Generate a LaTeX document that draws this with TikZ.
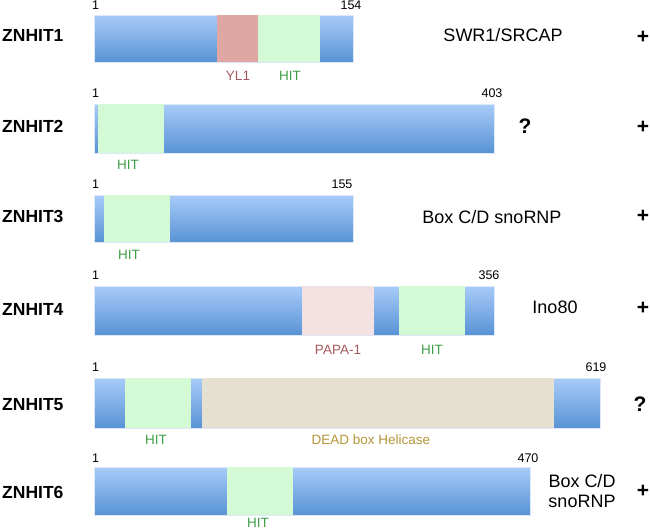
\documentclass[tikz,border=0pt]{standalone}
\usepackage{fontspec}
\setmainfont{Liberation Sans}
\definecolor{bartop}{HTML}{A8CBF8}
\definecolor{barbot}{HTML}{5893D5}
\definecolor{barline}{HTML}{DCE8F8}
\definecolor{hitfill}{HTML}{D3F9D5}
\definecolor{ylfill}{HTML}{DFA7A3}
\definecolor{papafill}{HTML}{F3E2E1}
\definecolor{deadfill}{HTML}{E5E0D0}
\definecolor{hittext}{HTML}{3D9E45}
\definecolor{redtext}{HTML}{A45A5E}
\definecolor{deadtext}{HTML}{B39538}
\tikzset{
  barshade/.style={top color=bartop,bottom color=barbot,draw=barline,line width=0.6pt},
  hitbox/.style={fill=hitfill},
  ylbox/.style={fill=ylfill},
  papabox/.style={fill=papafill},
  deadbox/.style={fill=deadfill},
  protname/.style={anchor=west,inner sep=0pt,font=\bfseries\fontsize{17.5}{19}\selectfont},
  numlab/.style={inner sep=0pt,font=\fontsize{12.5}{14}\selectfont},
  domlab/.style={inner sep=0pt,font=\fontsize{13.5}{15}\selectfont},
  sidetext/.style={inner sep=0pt,font=\fontsize{18}{20}\selectfont,align=left},
  signmark/.style={inner sep=0pt,font=\bfseries\fontsize{21}{23}\selectfont}
}
\begin{document}
\begin{tikzpicture}[x=1pt,y=-1pt]
\useasboundingbox (0,0) rectangle (650,531);
% ---- ZNHIT1
\shade[barshade] (94,15) rectangle (353,62);
\fill[ylbox] (217,15) rectangle (258,62);
\fill[hitbox] (258,15) rectangle (320,62);
\node[protname] (p1) at (2,35) {ZNHIT1};
\node[numlab] (p1s) at (95.5,5) {1};
\node[numlab] (p1e) at (351,5) {154};
\node[domlab,text=redtext] (p1a) at (238,76) {YL1};
\node[domlab,text=hittext] (p1b) at (290,76) {HIT};
\node[sidetext] (p1c) at (503,35) {SWR1/SRCAP};
\node[signmark] (p1m) at (643,37) {+};
% ---- ZNHIT2
\shade[barshade] (94,104) rectangle (494,153);
\fill[hitbox] (97.5,104) rectangle (164,153);
\node[protname] (p2) at (2,126) {ZNHIT2};
\node[numlab] (p2s) at (95.5,93) {1};
\node[numlab] (p2e) at (492,93) {403};
\node[domlab,text=hittext] (p2b) at (128,165) {HIT};
\node[signmark] (p2q) at (525,126) {?};
\node[signmark] (p2m) at (643,127) {+};
% ---- ZNHIT3
\shade[barshade] (94,195) rectangle (353,242);
\fill[hitbox] (104,195) rectangle (170,242);
\node[protname] (p3) at (2,216) {ZNHIT3};
\node[numlab] (p3s) at (95.5,184) {1};
\node[numlab] (p3e) at (342,184) {155};
\node[domlab,text=hittext] (p3b) at (129,255) {HIT};
\node[sidetext] (p3c) at (492,217) {Box C/D snoRNP};
\node[signmark] (p3m) at (643,216) {+};
% ---- ZNHIT4
\shade[barshade] (94,286) rectangle (494,335);
\fill[papabox] (302,286) rectangle (374,335);
\fill[hitbox] (399,286) rectangle (465,335);
\node[protname] (p4) at (2,309) {ZNHIT4};
\node[numlab] (p4s) at (95.5,275) {1};
\node[numlab] (p4e) at (489,275) {356};
\node[domlab,text=redtext] (p4a) at (338,350) {PAPA-1};
\node[domlab,text=hittext] (p4b) at (432,350) {HIT};
\node[sidetext] (p4c) at (555,307) {Ino80};
\node[signmark] (p4m) at (643,308) {+};
% ---- ZNHIT5
\shade[barshade] (94,378) rectangle (600,428);
\fill[hitbox] (124.5,378) rectangle (191,428);
\fill[deadbox] (202,378) rectangle (554,428);
\node[protname] (p5) at (2,405) {ZNHIT5};
\node[numlab] (p5s) at (95.5,367) {1};
\node[numlab] (p5e) at (596,367) {619};
\node[domlab,text=hittext] (p5b) at (156,440) {HIT};
\node[domlab,text=deadtext] (p5a) at (371,440) {DEAD box Helicase};
\node[signmark] (p5q) at (640,404) {?};
% ---- ZNHIT6
\shade[barshade] (94,467) rectangle (530,515);
\fill[hitbox] (227,467) rectangle (293,515);
\node[protname] (p6) at (2,492) {ZNHIT6};
\node[numlab] (p6s) at (95.5,458) {1};
\node[numlab] (p6e) at (528,458) {470};
\node[domlab,text=hittext] (p6b) at (258,523) {HIT};
\node[sidetext] (p6c) at (582,481) {Box C/D};
\node[sidetext] (p6d) at (582,501) {snoRNP};
\node[signmark] (p6m) at (643,491) {+};
\end{tikzpicture}
\end{document}
